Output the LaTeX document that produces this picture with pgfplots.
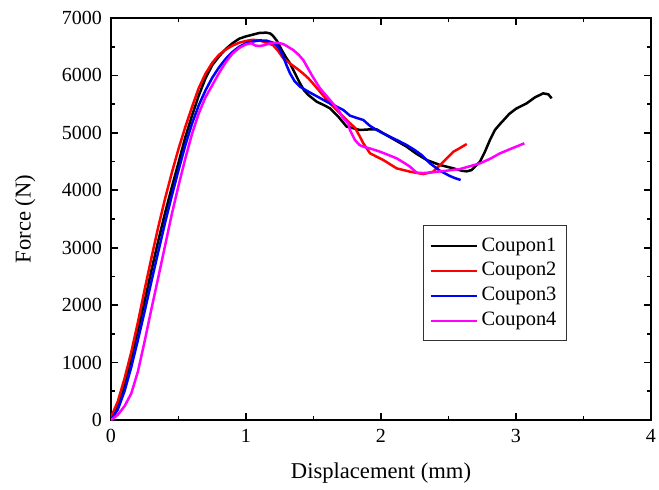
\documentclass[border=0pt]{standalone}
\usepackage{fontspec}
\setmainfont{Liberation Serif}
\usepackage{pgfplots}
\pgfplotsset{compat=1.18}
\definecolor{cpBlack}{RGB}{0,0,0}
\definecolor{cpRed}{RGB}{255,0,0}
\definecolor{cpBlue}{RGB}{0,0,255}
\definecolor{cpMagenta}{RGB}{255,0,255}

\begin{document}
\begin{tikzpicture}
% fixed page frame around the axis box (270pt x 201pt)
\useasboundingbox (-55.5pt,-34.5pt) rectangle (274pt,210pt);
\begin{axis}[
  at={(0pt,0pt)}, anchor=south west,
  scale only axis,
  width=270pt, height=201pt,
  xmin=0, xmax=4, ymin=0, ymax=7000,
  xtick={0,1,2,3,4},
  ytick={0,1000,...,7000},
  minor x tick num=1,
  minor y tick num=1,
  tick align=inside,
  major tick length=3.6pt,
  minor tick length=2.1pt,
  tick style={line width=0.8pt, black},
  axis line style={line width=0.9pt},
  /pgf/number format/assume math mode=true,
  /pgf/number format/1000 sep={},
  scaled y ticks=false,
  tick label style={font=\fontsize{10}{12}\selectfont},
  xticklabel style={yshift=-1.2pt},
  yticklabel style={xshift=-1pt},
  xlabel={Displacement (mm)},
  ylabel={Force (N)},
  xlabel style={at={(axis description cs:0.5,-0.132)}, anchor=center, font=\fontsize{11.3}{13}\selectfont},
  ylabel style={at={(axis description cs:-0.159,0.5)}, anchor=center, rotate=0, font=\fontsize{11.3}{13}\selectfont},
  legend style={at={(rel axis cs:0.578,0.485)}, anchor=north west,
    draw=black!80, line width=0.5pt,
    font=\fontsize{10.2}{12}\selectfont,
    row sep=0.2pt, inner xsep=3pt, inner ysep=4pt},
  legend cell align=left,
  legend image code/.code={\draw[#1, line width=1pt] (0pt,0pt) -- (23pt,0pt);},
  every axis plot/.append style={line width=1.25pt, line join=round},
]
% Coupon 1
\addplot[cpBlack] coordinates {
(0,0) (0.05,250) (0.1,620) (0.15,1080) (0.2,1570) (0.25,2080) (0.3,2610)
(0.35,3120) (0.4,3600) (0.45,4050) (0.5,4480) (0.55,4920) (0.6,5300)
(0.65,5650) (0.7,5950) (0.75,6180) (0.8,6330) (0.85,6460) (0.9,6560)
(0.95,6640) (1.0,6680) (1.05,6710) (1.1,6740) (1.15,6745) (1.18,6730)
(1.2,6690) (1.23,6600) (1.264,6443) (1.3,6300) (1.326,6211) (1.36,6050)
(1.40,5863) (1.43,5740) (1.462,5659) (1.524,5542) (1.58,5480) (1.622,5427)
(1.684,5281) (1.746,5107) (1.77,5096) (1.844,5050) (1.919,5061) (1.968,5061)
(2.017,4992) (2.1,4880) (2.19,4759) (2.26,4640) (2.339,4527) (2.437,4440)
(2.536,4382) (2.6,4340) (2.635,4330) (2.672,4353) (2.70,4420) (2.733,4498)
(2.77,4672) (2.807,4875) (2.844,5050) (2.88,5150) (2.9,5200) (2.95,5330)
(3.0,5420) (3.079,5514) (3.141,5619) (3.202,5688) (3.24,5671) (3.264,5601)
};
\addlegendentry{Coupon1}
% Coupon 2
\addplot[cpRed] coordinates {
(0,50) (0.05,320) (0.1,720) (0.15,1180) (0.2,1710) (0.25,2280) (0.3,2830)
(0.35,3360) (0.4,3850) (0.45,4300) (0.5,4720) (0.55,5100) (0.6,5450)
(0.65,5780) (0.7,6030) (0.75,6220) (0.8,6360) (0.85,6450) (0.9,6520)
(0.95,6570) (1.0,6600) (1.05,6620) (1.1,6610) (1.128,6588) (1.16,6560)
(1.2,6530) (1.24,6420) (1.276,6298) (1.33,6200) (1.375,6124) (1.42,6040)
(1.462,5950) (1.5,5850) (1.548,5717) (1.622,5514) (1.709,5311) (1.76,5190)
(1.807,5090) (1.844,4933) (1.869,4818) (1.919,4643) (2.017,4527) (2.116,4382)
(2.215,4324) (2.313,4283) (2.387,4324) (2.437,4440) (2.462,4498) (2.536,4672)
(2.573,4720) (2.635,4806)
};
\addlegendentry{Coupon2}
% Coupon 3
\addplot[cpBlue] coordinates {
(0,0) (0.05,180) (0.1,500) (0.15,920) (0.2,1400) (0.25,1900) (0.3,2420)
(0.35,2930) (0.4,3430) (0.45,3900) (0.5,4350) (0.55,4780) (0.6,5160)
(0.65,5480) (0.7,5740) (0.75,5960) (0.8,6140) (0.85,6290) (0.9,6410)
(0.95,6500) (1.0,6560) (1.05,6590) (1.1,6610) (1.153,6605) (1.2,6570)
(1.227,6530) (1.25,6450) (1.276,6327) (1.3,6180) (1.326,6037) (1.36,5900)
(1.40,5804) (1.462,5717) (1.53,5630) (1.598,5542) (1.66,5470) (1.721,5398)
(1.77,5300) (1.82,5260) (1.869,5224) (1.919,5120) (1.968,5050) (2.017,4990)
(2.067,4933) (2.13,4860) (2.19,4788) (2.25,4700) (2.301,4614) (2.363,4469)
(2.437,4340) (2.511,4248) (2.55,4210) (2.59,4180)
};
\addlegendentry{Coupon3}
% Coupon 4
\addplot[cpMagenta] coordinates {
(0,0) (0.05,90) (0.1,240) (0.15,460) (0.2,850) (0.25,1380) (0.3,1940)
(0.35,2480) (0.4,3030) (0.45,3580) (0.5,4080) (0.55,4550) (0.6,4980)
(0.65,5340) (0.7,5620) (0.75,5830) (0.8,6040) (0.85,6230) (0.9,6380)
(0.95,6480) (1.0,6540) (1.04,6560) (1.07,6520) (1.104,6512) (1.14,6530)
(1.178,6559) (1.23,6570) (1.276,6547) (1.31,6500) (1.35,6443) (1.39,6360)
(1.424,6269) (1.46,6120) (1.487,6007) (1.52,5880) (1.548,5776) (1.622,5572)
(1.684,5398) (1.721,5250) (1.758,5166) (1.77,5050) (1.807,4875) (1.84,4790)
(1.869,4759) (1.93,4720) (1.993,4672) (2.06,4610) (2.116,4556) (2.17,4480)
(2.215,4411) (2.264,4307) (2.31,4300) (2.363,4307) (2.437,4330) (2.487,4341)
(2.585,4370) (2.66,4420) (2.733,4469) (2.81,4550) (2.881,4643) (2.97,4730)
(3.062,4818)
};
\addlegendentry{Coupon4}
\end{axis}
\end{tikzpicture}
\end{document}
